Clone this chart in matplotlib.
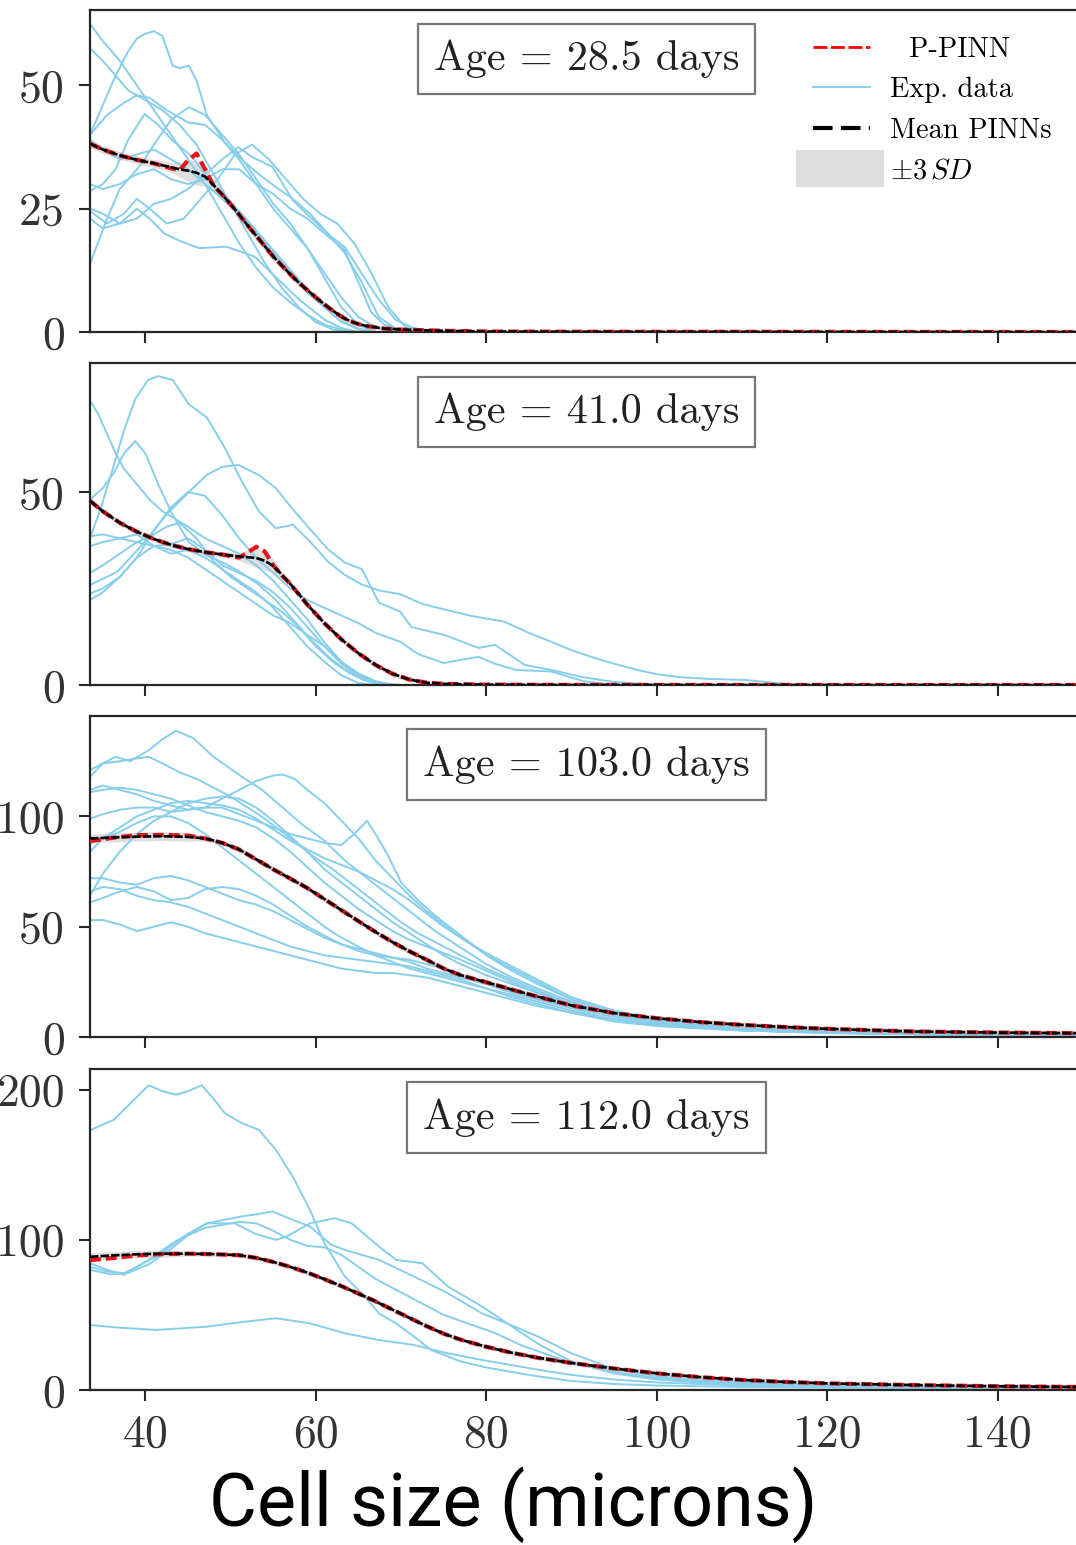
import matplotlib
matplotlib.use("Agg")
import matplotlib.pyplot as plt
from matplotlib.lines import Line2D
from matplotlib.patches import Patch, Rectangle
from matplotlib.legend_handler import HandlerPatch

plt.rcParams['font.family'] = ['cmr10', 'DejaVu Serif']
plt.rcParams['mathtext.fontset'] = 'cm'
plt.rcParams['axes.formatter.use_mathtext'] = True

# ---------------- data ----------------
ages = ["28.5", "41.0", "103.0", "112.0"]
ylims = [65.3, 83.4, 145.5, 213.8]
yticks = [[0, 25, 50], [0, 50], [0, 50, 100], [0, 100, 200]]
xticks = [40, 60, 80, 100, 120, 140]

# panel 1
x1m = [33.5, 35, 37, 39, 41, 43, 44, 45, 46, 47, 48, 49, 50, 51, 52, 53, 54, 55, 56, 57,
       58, 59, 60, 61, 62, 63, 64, 65, 66, 68, 70, 75, 80, 90, 150]
y1m = [38.2, 37.0, 35.8, 34.9, 34.2, 33.4, 33.0, 32.7, 32.3, 31.5, 29.8, 27.9, 25.9, 23.8, 21.6,
       19.5, 17.4, 15.3, 13.5, 11.7, 10.0, 8.5, 7.0, 5.6, 4.3, 3.1, 2.2, 1.6, 1.2, 0.7, 0.5, 0.25,
       0.1, 0.05, 0.0]
y1r = [38.2, 37.0, 35.8, 34.9, 34.2, 33.2, 32.8, 34.8, 36.2, 33.0, 29.6, 27.9, 25.9, 23.8, 21.6,
       19.5, 17.4, 15.3, 13.5, 11.7, 10.0, 8.5, 7.0, 5.6, 4.3, 3.1, 2.2, 1.6, 1.2, 0.7, 0.5, 0.25,
       0.1, 0.05, 0.0]
sd1 = [0.8, 0.8, 0.8, 0.8, 0.8, 1.0, 1.5, 2.2, 2.5, 2.0, 1.2, 0.9, 0.9, 0.9, 0.9, 0.9, 0.9, 0.8,
       0.8, 0.8, 0.8, 0.7, 0.7, 0.6, 0.6, 0.5, 0.5, 0.4, 0.4, 0.3, 0.3, 0.2, 0.1, 0.1, 0.1]
exp1_x = [
    [33.5, 35, 37, 39, 41, 43, 45, 47, 49, 51, 53, 55, 57, 59, 61, 63, 65],
    [33.5, 35, 36.5, 38, 39, 40, 41, 42, 43.2, 44, 45.1, 46, 47.2, 49.3, 51.3, 53.3, 55.3, 57.3,
     59.3, 61.4, 63.4, 65.4, 67.4, 69.4, 72],
    [33.5, 35, 36.5, 38, 40, 42, 44, 46, 48, 50, 52, 54, 56, 58, 60, 62, 64],
    [33.5, 35.5, 37.5, 39, 40.5, 42.5, 45, 47, 49, 51, 53, 55, 57, 59, 61, 63, 65, 67, 69],
    [33.5, 35, 36.5, 38, 39.9, 41.5, 43.2, 45.6, 48, 51.3, 55.3, 59.3, 62.6, 65, 67],
    [33.5, 35.5, 37.5, 39, 40.5, 42.5, 44.5, 46.5, 48.5, 50.5, 52.5, 54.5, 56.5, 58.5, 60.5, 62.5,
     64.5, 66.5, 68.5, 70.5, 73],
    [33.5, 35, 37, 39, 40.5, 42.2, 44, 46.3, 49.5, 52.8, 55.2, 58.1, 61, 63, 65],
    [33.5, 35.5, 37, 39.5, 41, 43, 45.1, 47, 49, 51, 53, 55, 57, 59, 61, 63, 65, 67],
    [33.5, 35, 37, 39, 41, 43, 45, 47.2, 49, 50.9, 52.5, 54.9, 57.3, 59.3, 61.4, 63.4, 65.4, 67.4,
     69.4, 71.5, 74],
    [33.5, 35, 37, 39, 41, 43, 45, 47, 49, 51, 53, 55, 57, 59, 61, 63.4, 65, 66.5, 68, 70, 73],
    [33.5, 35, 37, 39, 41, 43, 45, 47, 49, 51, 53, 55, 57, 59, 61, 63, 65, 67],
]
exp1_y = [
    [62.5, 59, 55, 50, 45, 40, 35, 30, 24, 18, 13, 9, 6, 3.5, 1.5, 0.5, 0],
    [40, 46, 52, 57, 59.5, 60.5, 61, 60, 54, 53.5, 54, 51, 44, 38.5, 35, 32, 29.4, 27, 24, 20, 16,
     10, 3, 0.7, 0],
    [57.5, 55, 52, 49, 47, 45, 42, 38, 32, 26, 20, 14, 9, 5, 2, 0.5, 0],
    [40, 44, 46.5, 48, 47.5, 45, 42.5, 42, 39, 35, 30, 25, 21, 17, 12, 7, 3, 1, 0],
    [28.6, 30, 33, 39, 44.2, 42, 38.8, 35.4, 29.4, 24, 16, 8, 2.6, 0.5, 0],
    [24.5, 22, 24, 27, 25, 22, 23, 27, 31, 36, 38, 35, 31, 27, 24, 22, 18, 12, 5, 1, 0],
    [23, 21, 22, 25, 23, 20, 18.5, 17, 17.3, 15.3, 11.3, 6.5, 2.5, 0.8, 0],
    [13.8, 23, 29, 34, 38, 43, 45.6, 44, 40, 36, 31, 26, 22, 17, 11, 5, 1.5, 0],
    [25, 24, 22, 23, 26, 27, 29, 32.2, 35, 37.5, 35.5, 33.5, 26.7, 23.3, 19.9, 17.2, 11.8, 6.5,
     2.4, 0.8, 0],
    [30, 29, 30, 32, 33, 31, 30, 31, 33, 33, 30, 28, 25, 23, 20, 16.6, 10, 4, 1.5, 0.5, 0],
    [39, 37, 35, 36, 37, 35, 33, 30, 27, 24, 20, 16, 12, 8, 5, 2, 0.7, 0],
]

# panel 2
x2m = [33.5, 35, 37, 39, 41, 43, 45, 47, 49, 51, 52, 53, 54, 55, 56, 57, 59, 61, 63, 65, 67, 69,
       71, 73, 75, 80, 90, 150]
y2m = [47.7, 45.0, 42.0, 39.7, 37.8, 36.3, 35.2, 34.4, 33.8, 33.3, 33.1, 32.9, 32.2, 30.8, 28.6,
       26.2, 20.8, 16.0, 11.8, 8.2, 5.2, 2.9, 1.4, 0.6, 0.3, 0.1, 0.02, 0.0]
y2r = [47.7, 45.0, 42.0, 39.7, 37.8, 36.3, 35.2, 34.4, 33.8, 33.0, 34.3, 35.8, 34.6, 31.0, 28.4,
       26.2, 20.8, 16.0, 11.8, 8.2, 5.2, 2.9, 1.4, 0.6, 0.3, 0.1, 0.02, 0.0]
sd2 = [0.7] * 9 + [1.0, 1.8, 2.4, 2.4, 1.8, 1.0] + [0.7] * 8 + [0.4, 0.3, 0.2, 0.1, 0.1]
exp2_x = [
    [33.5, 34.8, 36.3, 37.5, 38.8, 40.3, 41.5, 43.2, 45.1, 47.2, 49.3, 51.3, 53.3, 55.3, 57.3,
     59.3, 61.4, 63.4, 65.4, 67.4, 69.9, 72.5, 75, 78, 82.1, 85, 87.6, 90, 92.7, 95, 97.7, 100,
     102.8, 106, 110.4, 115],
    [33.5, 34.5, 35.5, 36.5, 37.5, 39, 40.5, 42, 43.5, 45, 47, 49, 51, 53, 55, 57, 59, 61, 63, 65,
     67, 69],
    [33.5, 35, 36.3, 37.5, 38.8, 40, 41.5, 43.2, 45.1, 47.2, 49.3, 51.3, 53.3, 55.3, 57.3, 59.3,
     61.4, 63.4, 65.4, 67.4, 70],
    [33.5, 36.7, 39.9, 42.4, 45.1, 47.2, 49, 50.9, 53.3, 55.3, 57.3, 59.3, 61.4, 63.4, 65.4, 67.4,
     69.9, 71.2, 75, 79.1, 81, 84.5, 87.6, 91.4, 95, 100],
    [33.5, 35, 37, 39, 41, 43, 45, 47, 49, 51, 53, 55, 57, 59, 61, 63, 65, 67, 69.9, 72, 75, 77,
     79.1, 81, 83.5, 87.6, 91.4, 95],
    [33.5, 35, 37, 39, 41, 43, 45, 47, 49, 51, 53, 55, 57, 59, 61, 63, 65, 67, 69],
    [33.5, 35, 37, 39, 41, 43, 45, 47, 49, 51, 53, 55, 57, 59, 61, 63, 65, 67],
    [33.5, 35, 37, 39, 41, 42.5, 44, 46, 48, 50, 52, 54, 56, 58, 60, 62, 64, 66, 68],
    [33.5, 35, 37, 39, 41, 43, 45, 47, 49, 51, 53, 55, 57, 59, 61, 63, 65, 67, 69],
]
exp2_y = [
    [38, 46, 57, 66, 74, 79, 80, 79, 72.7, 69.3, 61.5, 52.8, 45, 40.6, 41.5, 37.2, 32, 28.5, 26,
     24.5, 23.5, 21, 19.6, 18, 16.4, 13.5, 11.2, 9, 7, 5.5, 3.9, 2.8, 2, 1.6, 1.3, 0.3],
    [73.7, 70, 65, 60, 56, 52, 48, 45, 43, 41, 38, 36, 34, 31, 27, 22, 17, 11, 6, 2.5, 0.8, 0],
    [48, 51, 55, 60, 63.2, 60, 52, 44, 37, 33.5, 31.5, 29, 26, 22, 17, 12, 7.5, 4, 1.5, 0.5, 0],
    [25.9, 29.3, 37, 44, 50, 54.4, 56.5, 57, 54.4, 51, 45.5, 40.4, 35.2, 31.7, 30, 21.3, 19, 15,
     13, 9.6, 10.4, 5.2, 3.9, 2, 0.8, 0],
    [23.7, 25, 28, 33, 40, 46, 50, 49, 44, 38, 33, 29, 25, 22, 20, 18, 16, 13.5, 11.2, 8, 5.7,
     6.5, 7.3, 5.5, 3.9, 3.5, 1, 0],
    [38.5, 39, 38, 37, 36, 36.5, 38, 35, 31, 29, 27, 24, 20, 15, 10, 5.5, 2, 0.5, 0],
    [36, 37, 38, 39, 36, 34, 35, 33, 30, 27, 24, 20, 15, 10, 6, 2.5, 0.5, 0],
    [29, 31, 34, 37, 39, 41, 42, 38, 32, 28, 25, 22, 19, 15, 10, 6, 3, 1, 0],
    [22, 24, 28, 33, 36, 35, 33, 30, 27, 24, 21, 18, 16, 13, 10, 6, 3, 1, 0],
]

# panel 3
x3m = [33.5, 36, 39, 42, 45, 47, 49, 51, 53, 55, 57, 59, 61, 63, 65, 67, 69, 71, 73, 75, 77, 80,
       83, 86, 90, 95, 100, 105, 110, 115, 120, 130, 140, 150]
y3m = [90.0, 90.4, 90.8, 91.0, 90.7, 90.0, 88.0, 85.0, 80.5, 76.0, 71.8, 67.5, 62.5, 57.5, 52.5,
       47.6, 43.0, 38.8, 35.0, 31.0, 28.0, 24.8, 21.5, 18.3, 14.3, 10.8, 8.5, 6.8, 5.5, 4.5, 3.7,
       2.5, 2.0, 1.7]
y3r = [88.8, 90.2, 91.5, 91.6, 91.3, 90.0, 88.0, 85.0, 80.5, 76.0, 71.8, 67.5, 62.5, 57.5, 52.5,
       47.6, 43.0, 38.8, 35.0, 31.0, 28.0, 24.8, 21.5, 18.3, 14.3, 10.8, 8.5, 6.8, 5.5, 4.5, 3.7,
       2.5, 2.0, 1.7]
sd3 = [2.0] * 5 + [1.2] * 29
g3 = [33.5, 35, 37, 39, 41, 43, 45, 47, 49, 51, 53, 55, 57, 59, 61, 63, 65, 67, 69, 71, 73, 75,
      77, 80, 83, 86, 90, 95, 100, 110, 120, 135, 150]
exp3_x = [
    [33.5, 35, 36.5, 38.2, 40.4, 42, 43.6, 45.6, 48, 51.3, 53.7, 56.1, 58.5, 61, 63.4, 66, 68, 70,
     72, 74, 76, 78, 80, 83, 86, 90, 95, 100, 105, 110, 120, 135, 150],
    [33.5, 35, 37, 38.5, 40.4, 42, 44, 46, 48, 50, 52, 54, 56, 58, 60, 62, 64, 66, 68, 70, 72, 74,
     76, 78, 80, 83, 86, 90, 95, 100, 110, 120, 135, 150],
    [33.5, 35, 37, 39, 41, 43, 45, 47, 49, 51, 53, 55, 56.1, 57.5, 59, 61, 63, 65, 67, 69, 71, 73,
     75, 77, 79, 81, 84, 87, 90, 95, 100, 110, 120, 135, 150],
    [33.5, 35, 37, 39, 41, 43, 45, 47, 49, 51, 53, 55, 57, 59, 61, 63, 64.5, 66, 67, 68.5, 70, 72,
     74, 76, 78, 80, 83, 86, 90, 95, 100, 110, 120, 135, 150],
    g3, g3, g3, g3, g3, g3, g3, g3,
]
exp3_y = [
    [118, 124, 127, 125, 130, 135, 138.8, 135.5, 127, 118, 112, 104, 96, 89, 80, 72, 66, 60, 54,
     48, 43, 38, 33, 27, 22, 16, 10, 7, 5, 3.5, 2, 1, 0.7],
    [121, 124, 125, 126, 127, 124, 120, 117, 113, 109, 104, 99, 93, 87, 81, 76, 70, 64, 58, 52,
     47, 43, 39, 35, 31, 26, 21, 15, 10, 7, 3.5, 2, 1, 0.6],
    [112, 114, 112, 110, 107, 105, 103, 104, 108, 112, 116, 118.5, 119, 117, 112, 106, 98, 90,
     80, 72, 64, 57, 51, 45, 40, 35, 29, 23, 17, 11, 7.5, 4, 2.5, 1.3, 0.8],
    [99, 101, 103, 104, 104, 102, 103, 104, 104, 101, 98, 95, 92, 90, 88, 87, 92, 98, 92, 82, 70,
     62, 55, 49, 43, 37, 30, 24, 17, 11, 7.5, 4, 2.5, 1.3, 0.8],
    [84, 90, 95, 100, 103, 106, 107, 106, 105, 103, 99, 94, 89, 85, 81, 78, 75, 71, 67, 62, 56,
     50, 45, 38, 32, 26, 18, 12, 8, 4, 2.5, 1.3, 0.8],
    [64, 74, 84, 92, 98, 102, 106, 108, 109, 108, 104, 98, 91, 84, 76, 70, 64, 58, 52, 47, 42,
     37, 33, 28, 24, 20, 15, 10, 6.5, 3.5, 2, 1.2, 0.7],
    [72, 72, 70, 69, 72, 73, 71, 68, 65, 62, 60, 57, 53, 49, 45, 42, 39, 37, 36, 35, 33, 31, 28,
     24, 20, 17, 13, 9, 6, 3, 2, 1.2, 0.7],
    [61, 63, 66, 68, 66, 62, 63, 67, 68, 67, 64, 60, 55, 50, 46, 42, 40, 38, 36, 34, 31, 29, 27,
     24, 21, 18, 14, 10, 7, 3.5, 2, 1.2, 0.7],
    [53, 53, 51, 48, 50, 52, 50, 47, 45, 43, 41, 39, 37, 35, 33, 31, 30, 29, 29, 28, 27, 25, 23,
     20, 17, 14, 11, 7, 5, 3, 2, 1, 0.6],
    [88, 90, 93, 97, 100, 100, 97, 92, 86, 80, 74, 68, 62, 56, 50, 45, 41, 37, 34, 31, 29, 27,
     25, 22, 19, 16, 12, 8, 5.5, 3, 1.8, 1, 0.6],
    [66, 68, 67, 64, 62, 61, 59, 56, 53, 50, 47, 44, 41, 39, 37, 36, 35, 34, 33, 32, 30, 28, 26,
     22, 18, 15, 11, 8, 5, 3, 1.8, 1, 0.6],
    [111, 112, 113, 112, 110, 108, 105, 102, 100, 98, 95, 90, 84, 77, 70, 64, 58, 53, 48, 44, 41,
     38, 35, 30, 25, 20, 15, 10, 7, 3.5, 2, 1.2, 0.7],
]

# panel 4
x4m = [33.5, 36, 39, 42, 45, 48, 51, 53, 55, 57, 59, 61, 63, 65, 67, 69, 71, 73, 75, 77, 80, 83,
       86, 90, 95, 100, 105, 110, 115, 120, 130, 140, 150]
y4m = [88.7, 89.6, 90.4, 90.8, 90.8, 90.5, 89.8, 88.0, 85.3, 82.0, 78.2, 73.8, 69.2, 64.2, 59.0,
       53.5, 48.0, 42.5, 37.5, 33.5, 28.8, 24.8, 21.5, 18.0, 14.3, 11.1, 8.6, 6.7, 5.4, 4.4, 3.3,
       2.5, 2.0]
y4r = [86.5, 87.8, 89.6, 90.6, 90.8, 90.5, 89.8, 88.0, 85.3, 82.0, 78.2, 73.8, 69.2, 64.2, 59.0,
       53.5, 48.0, 42.5, 37.5, 33.5, 28.8, 24.8, 21.5, 18.0, 14.3, 11.1, 8.6, 6.7, 5.4, 4.4, 3.3,
       2.5, 2.0]
sd4 = [2.5] * 4 + [1.5] * 29
exp4_x = [
    [33.5, 36.3, 37.9, 40.4, 42, 43.6, 45, 46.6, 48, 49.3, 51.3, 53.3, 55.3, 57.3, 59.3, 61, 63.4,
     65.8, 67.4, 69.4, 71.5, 73.5, 77, 80, 85, 90, 95, 100, 110, 120, 135, 150],
    [33.5, 35.5, 37.5, 40.4, 43.2, 45, 47.2, 49, 51.3, 53, 54.9, 57.3, 59.3, 61.8, 63.4, 67.4,
     71.5, 75.5, 79.5, 83, 86.3, 90, 95, 100, 105, 110, 120, 135, 150],
    [33.5, 35.5, 37.5, 41.3, 44, 47.2, 50.5, 52.9, 55.3, 56.5, 59.3, 62.2, 64.2, 67.4, 69.4, 72.5,
     75.5, 79.5, 83.6, 86.3, 90, 95, 100, 105, 110, 120, 135, 150],
    [33.5, 37, 41.3, 44, 47.2, 51, 55.3, 59.3, 63.4, 67.4, 71.5, 75.5, 79.5, 86.3, 90, 95, 100,
     110, 120, 150],
    [33.5, 36, 38, 40.5, 43, 45, 47, 49, 51, 53, 55, 57, 59, 61, 63, 65, 67, 69, 71, 73, 75, 78,
     81, 84, 87, 90, 95, 100, 105, 110, 120, 135, 150],
]
exp4_y = [
    [173, 180, 189, 203, 199, 196.7, 199, 203, 194, 184.4, 177.8, 173.3, 160, 142, 120, 97.8,
     75.6, 62, 51, 44.4, 35.6, 26.7, 19, 15, 10, 6, 4, 3, 2, 1.5, 1.2, 1],
    [84.4, 80, 76.7, 86.7, 97.8, 104, 111, 113, 115.6, 117, 118.9, 113.3, 108.9, 96.7, 93.3,
     86.7, 75.6, 64.4, 51, 43, 35, 24.4, 14, 9, 6.5, 5, 3.5, 2.5, 2],
    [82, 79, 77.8, 88.9, 100, 111, 111, 104, 100, 102, 111, 114.4, 111, 95.6, 86.7, 84.4, 68.9,
     55.6, 40, 30, 19, 11, 7, 5, 3.5, 2.5, 1.8, 1.5],
    [43.3, 41.5, 40, 41, 42.2, 45, 47.8, 44.4, 37.8, 33.3, 30, 24.4, 20, 13.3, 10, 7, 5, 3, 2, 1],
    [80, 77, 78, 84, 94, 103, 108, 110, 112, 111, 106, 100, 96, 95, 90, 82, 74, 68, 62, 56, 50,
     44, 38, 30, 24, 18, 12, 8, 6, 4.5, 3, 2, 1.5],
]

panels = [
    (x1m, y1m, y1r, sd1, exp1_x, exp1_y),
    (x2m, y2m, y2r, sd2, exp2_x, exp2_y),
    (x3m, y3m, y3r, sd3, exp3_x, exp3_y),
    (x4m, y4m, y4r, sd4, exp4_x, exp4_y),
]

# ---------------- figure ----------------
W, H = 1076, 1545
fig = plt.figure(figsize=(W / 100, H / 100), dpi=100)
ax_left = 90 / W
ax_w = (1083 - 90) / W
tops = [10, 363, 716, 1069]
bots = [332, 685, 1037, 1390]

blue = '#87CEEB'
spine_c = '#262626'
axes = []
for i, (xm, ym, yr, sd, ex, ey) in enumerate(panels):
    ax = fig.add_axes([ax_left, 1 - bots[i] / H, ax_w, (bots[i] - tops[i]) / H])
    axes.append(ax)
    lo = [m - s for m, s in zip(ym, sd)]
    hi = [m + s for m, s in zip(ym, sd)]
    ax.fill_between(xm, lo, hi, color='grey', alpha=0.25, lw=0, zorder=1)
    for xs, ys in zip(ex, ey):
        ax.plot(xs, ys, color=blue, lw=1.4, zorder=2)
    ax.plot(xm, yr, color='#e8141c', lw=3.0, ls=(0, (2.6, 1.2)), zorder=3)
    ax.plot(xm, ym, color='black', lw=1.9, ls=(0, (3.2, 0.8)), zorder=4)
    ax.set_xlim(33.5, 150)
    ax.set_ylim(0, ylims[i])
    ax.set_yticks(yticks[i])
    ax.set_yticklabels([str(t) for t in yticks[i]])
    ax.set_xticks(xticks)
    if i == 3:
        ax.set_xticklabels([str(t) for t in xticks])
    else:
        ax.set_xticklabels([])
    ax.tick_params(axis='both', direction='out', length=8, width=1.5, colors=spine_c,
                   labelsize=33, labelcolor='#333333')
    ax.tick_params(axis='y', pad=10)
    ax.tick_params(axis='x', pad=9)
    for s in ax.spines.values():
        s.set_linewidth(1.6)
        s.set_color(spine_c)
    ax.text(0.5, 0.848, f"Age = {ages[i]} days", transform=ax.transAxes,
            ha='center', va='center', fontsize=30.5, color='#222222',
            bbox=dict(boxstyle='square,pad=0.38', fc='white', ec='#777777', lw=1.6),
            zorder=6)


class BigPatchHandler(HandlerPatch):
    def __init__(self):
        super().__init__(patch_func=self._pf)

    @staticmethod
    def _pf(legend, orig_handle, xdescent, ydescent, width, height, fontsize):
        return Rectangle((-xdescent - 0.3 * width, -ydescent - 0.45 * height),
                         1.55 * width, 1.9 * height)


h_red = Line2D([], [], color='red', lw=2.0, ls=(0, (5, 1.3)))
h_blue = Line2D([], [], color=blue, lw=1.4)
h_black = Line2D([], [], color='black', lw=3.0, ls=(0, (4.7, 2)))
h_grey = Patch(facecolor='#dedede', edgecolor='none')
axes[0].legend([h_red, h_blue, h_black, h_grey],
               ['  P-PINN', 'Exp. data', 'Mean PINNs', r'$\pm3\,SD$'],
               loc='upper left', bbox_to_anchor=(0.728, 0.918), frameon=False,
               fontsize=20.5, handlelength=2.0, handletextpad=0.7, labelspacing=0.5,
               borderpad=0, borderaxespad=0,
               handler_map={Patch: BigPatchHandler()})

fig.text(0.477, 0.026, "Cell size (microns)", fontsize=53, family='Roboto',
         ha='center', va='center', color='black')

fig.savefig('out.png', dpi=100)
